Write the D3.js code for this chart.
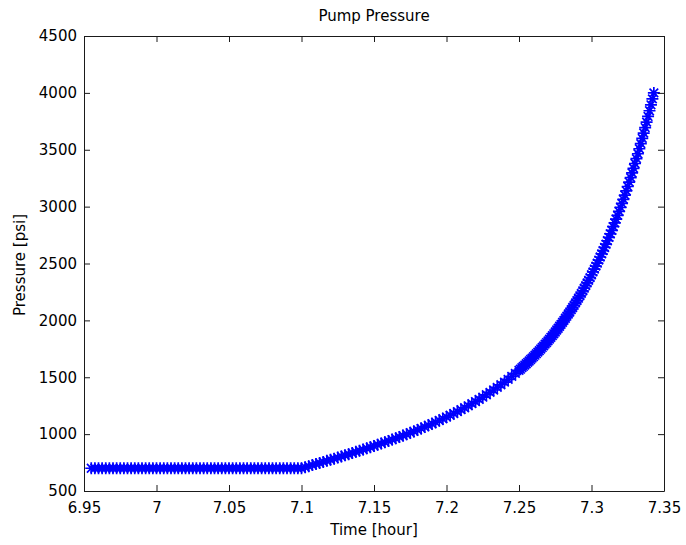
<!DOCTYPE html>
<html>
<head>
<meta charset="utf-8">
<script src="https://cdn.jsdelivr.net/npm/d3@7/dist/d3.min.js"></script>
<style>
  html, body { margin: 0; padding: 0; background: #fff; }
  svg { display: block; }
  text { font-family: "DejaVu Sans", Verdana, sans-serif; fill: #000; }
</style>
</head>
<body>
<svg id="chart" width="686" height="545"></svg>
<script>
// Pump pressure log: time in hours, pressure in psi
const timeHours = [
  6.9550, 6.9575, 6.9600, 6.9625, 6.9650, 6.9675, 6.9700, 6.9725, 6.9750, 6.9775,
  6.9800, 6.9825, 6.9850, 6.9875, 6.9900, 6.9925, 6.9950, 6.9975, 7.0000, 7.0025,
  7.0050, 7.0075, 7.0100, 7.0125, 7.0150, 7.0175, 7.0200, 7.0225, 7.0250, 7.0275,
  7.0300, 7.0325, 7.0350, 7.0375, 7.0400, 7.0425, 7.0450, 7.0475, 7.0500, 7.0525,
  7.0550, 7.0575, 7.0600, 7.0625, 7.0650, 7.0675, 7.0700, 7.0725, 7.0750, 7.0775,
  7.0800, 7.0825, 7.0850, 7.0875, 7.0900, 7.0925, 7.0950, 7.0975, 7.1000,
  7.1025, 7.1050, 7.1075, 7.1100, 7.1125, 7.1150, 7.1175, 7.1200, 7.1225, 7.1250,
  7.1275, 7.1300, 7.1325, 7.1350, 7.1375, 7.1400, 7.1425, 7.1450, 7.1475, 7.1500,
  7.1525, 7.1550, 7.1575, 7.1600, 7.1625, 7.1650, 7.1675, 7.1700, 7.1725, 7.1750,
  7.1775, 7.1800, 7.1825, 7.1850, 7.1875, 7.1900, 7.1925, 7.1950, 7.1975, 7.2000,
  7.2025, 7.2050, 7.2075, 7.2100, 7.2125, 7.2150, 7.2175, 7.2200, 7.2225, 7.2250,
  7.2275, 7.2300, 7.2325, 7.2350, 7.2375, 7.2400, 7.2425, 7.2450, 7.2475, 7.2500,
  7.251, 7.252, 7.253, 7.254, 7.255, 7.256, 7.257, 7.258, 7.259, 7.260,
  7.261, 7.262, 7.263, 7.264, 7.265, 7.266, 7.267, 7.268, 7.269, 7.270,
  7.271, 7.272, 7.273, 7.274, 7.275, 7.276, 7.277, 7.278, 7.279, 7.280,
  7.281, 7.282, 7.283, 7.284, 7.285, 7.286, 7.287, 7.288, 7.289, 7.290,
  7.291, 7.292, 7.293, 7.294, 7.295, 7.296, 7.297, 7.298, 7.299, 7.300,
  7.301, 7.302, 7.303, 7.304, 7.305, 7.306, 7.307, 7.308, 7.309, 7.310,
  7.311, 7.312, 7.313, 7.314, 7.315, 7.316, 7.317, 7.318, 7.319, 7.320,
  7.321, 7.322, 7.323, 7.324, 7.325, 7.326, 7.327, 7.328, 7.329, 7.330,
  7.331, 7.332, 7.333, 7.334, 7.335, 7.336, 7.337, 7.338, 7.339, 7.340,
  7.341, 7.342, 7.343
];
const pressurePsi = [
  700, 700, 700, 700, 700, 700, 700, 700, 700, 700,
  700, 700, 700, 700, 700, 700, 700, 700, 700, 700,
  700, 700, 700, 700, 700, 700, 700, 700, 700, 700,
  700, 700, 700, 700, 700, 700, 700, 700, 700, 700,
  700, 700, 700, 700, 700, 700, 700, 700, 700, 700,
  700, 700, 700, 700, 700, 700, 700, 700, 700,
  709, 718, 728, 737, 746, 756, 765, 775, 784, 794,
  804, 814, 823, 834, 844, 854, 864, 875, 885, 896,
  907, 918, 929, 940, 952, 963, 975, 987, 999, 1012,
  1024, 1037, 1050, 1064, 1077, 1091, 1105, 1120, 1135, 1150,
  1166, 1181, 1198, 1215, 1232, 1249, 1268, 1286, 1305, 1325,
  1346, 1367, 1388, 1411, 1434, 1457, 1482, 1508, 1534, 1561,
  1571, 1584, 1595, 1607, 1619, 1631, 1643, 1656, 1668, 1681,
  1694, 1707, 1721, 1734, 1748, 1762, 1776, 1791, 1805, 1820,
  1835, 1851, 1866, 1882, 1898, 1915, 1931, 1948, 1965, 1983,
  2000, 2019, 2037, 2056, 2074, 2094, 2113, 2133, 2154, 2174,
  2195, 2216, 2238, 2260, 2283, 2305, 2329, 2352, 2376, 2401,
  2426, 2451, 2477, 2503, 2530, 2557, 2584, 2613, 2641, 2670,
  2700, 2730, 2761, 2792, 2824, 2857, 2890, 2923, 2958, 2993,
  3028, 3064, 3101, 3139, 3177, 3216, 3255, 3296, 3337, 3379,
  3422, 3465, 3509, 3554, 3600, 3647, 3695, 3743, 3793, 3843,
  3895, 3947, 4000
];
const xTickValues = [6.95, 7, 7.05, 7.1, 7.15, 7.2, 7.25, 7.3, 7.35];
const yTickValues = [500, 1000, 1500, 2000, 2500, 3000, 3500, 4000, 4500];
const titleText = "Pump Pressure";
const xLabelText = "Time [hour]";
const yLabelText = "Pressure [psi]";

const svg = d3.select("#chart");
const box = { left: 84, right: 664, top: 36, bottom: 491 };
const tickLen = 6;

const x = d3.scaleLinear().domain([6.95, 7.35]).range([box.left, box.right]);
const y = d3.scaleLinear().domain([500, 4500]).range([box.bottom, box.top]);

const n = Math.min(timeHours.length, pressurePsi.length);
const points = d3.range(n).map(i => ({ t: timeHours[i], p: pressurePsi[i] }));

// asterisk marker: plus and cross overlaid
const r = 6, d = r * 0.72;
const starPath = `M${-r},0L${r},0M0,${-r}L0,${r}M${-d},${-d}L${d},${d}M${-d},${d}L${d},${-d}`;

svg.append("g")
  .selectAll("path")
  .data(points)
  .join("path")
  .attr("transform", p => `translate(${x(p.t)},${y(p.p)})`)
  .attr("d", starPath)
  .attr("fill", "none")
  .attr("stroke", "#0000ff")
  .attr("stroke-width", 1.7);

// axes with inward ticks on all four sides
const fmt = v => String(v);
const axisStyle = g => {
  g.select(".domain").attr("stroke", "#1a1a1a").attr("stroke-width", 1);
  g.selectAll(".tick line").attr("stroke", "#1a1a1a");
};

svg.append("g")
  .attr("transform", `translate(0,${box.bottom})`)
  .call(d3.axisBottom(x).tickValues(xTickValues).tickFormat(fmt).tickSizeInner(-tickLen).tickSizeOuter(0).tickPadding(11))
  .call(axisStyle);

svg.append("g")
  .attr("transform", `translate(0,${box.top})`)
  .call(d3.axisTop(x).tickValues(xTickValues).tickFormat("").tickSizeInner(-tickLen).tickSizeOuter(0))
  .call(axisStyle);

svg.append("g")
  .attr("transform", `translate(${box.left},0)`)
  .call(d3.axisLeft(y).tickValues(yTickValues).tickFormat(fmt).tickSizeInner(-tickLen).tickSizeOuter(0).tickPadding(7))
  .call(axisStyle);

svg.append("g")
  .attr("transform", `translate(${box.right},0)`)
  .call(d3.axisRight(y).tickValues(yTickValues).tickFormat("").tickSizeInner(-tickLen).tickSizeOuter(0))
  .call(axisStyle);

svg.selectAll(".tick text")
  .attr("font-family", null)
  .attr("font-size", 15)
  .attr("fill", "#000");

// title and axis labels
svg.append("text")
  .attr("x", (box.left + box.right) / 2)
  .attr("y", 21)
  .attr("text-anchor", "middle")
  .attr("font-size", 15)
  .text(titleText);

svg.append("text")
  .attr("x", (box.left + box.right) / 2)
  .attr("y", 535)
  .attr("text-anchor", "middle")
  .attr("font-size", 15)
  .text(xLabelText);

svg.append("text")
  .attr("transform", `translate(25,265) rotate(-90)`)
  .attr("text-anchor", "middle")
  .attr("font-size", 15)
  .text(yLabelText);
</script>
</body>
</html>
